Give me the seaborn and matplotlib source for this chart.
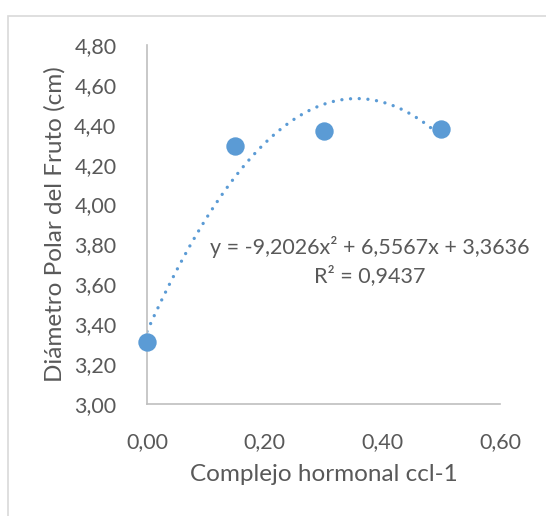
import numpy as np
import pandas as pd
import matplotlib
matplotlib.use("Agg")
import matplotlib.pyplot as plt
import seaborn as sns
from matplotlib.patches import Rectangle

# Data
dosis = [0.00, 0.15, 0.30, 0.50]
diametro = [3.311, 4.294, 4.371, 4.378]
coef = [-9.2026, 6.5567, 3.3636]   # polynomial trend (x², x, const)
r2 = 0.9437
xticks = [0.0, 0.2, 0.4, 0.6]
yticks = [3.0, 3.2, 3.4, 3.6, 3.8, 4.0, 4.2, 4.4, 4.6, 4.8]

sns.set_theme(style="white")
plt.rcParams["font.family"] = ["Lato", "DejaVu Sans"]

blue = "#5B9BD5"
grey_txt = "#595959"
axis_col = "#BFBFBF"

W, H = 546, 516
fig = plt.figure(figsize=(W / 100, H / 100), dpi=100)
fig.patch.set_facecolor("white")

# outer chart frame
fig.patches.append(Rectangle((8 / W, -0.1), 1.2, 1 - 16 / H + 0.1,
                             transform=fig.transFigure, fill=False,
                             edgecolor="#D9D9D9", linewidth=1.2))

x0, x1 = 147, 500
y0, y1 = 45, 404
ax = fig.add_axes([x0 / W, 1 - y1 / H, (x1 - x0) / W, (y1 - y0) / H])
ax.set_facecolor("none")

df = pd.DataFrame({"dosis": dosis, "diametro": diametro})

# trendline from the stated coefficients
xs = np.linspace(min(dosis), max(dosis), 200)
ys = np.polyval(coef, xs)
ax.plot(xs, ys, color=blue, linewidth=2.4, linestyle=(0, (0.01, 2.6)),
        dash_capstyle="round", zorder=2)

sns.scatterplot(data=df, x="dosis", y="diametro", ax=ax, color=blue,
                s=175, edgecolor=blue, linewidth=0, zorder=3, clip_on=False)

ax.set_xlim(0, 0.6)
ax.set_ylim(3.0, 4.8)
ax.set_xticks(xticks)
ax.set_yticks(yticks)
ax.set_xticklabels([f"{v:.2f}".replace(".", ",") for v in xticks])
ax.set_yticklabels([f"{v:.2f}".replace(".", ",") for v in yticks])
ax.tick_params(axis="both", length=0, labelsize=15.5, colors=grey_txt)
ax.tick_params(axis="x", pad=20)
ax.tick_params(axis="y", pad=22)

for side in ["top", "right"]:
    ax.spines[side].set_visible(False)
for side in ["left", "bottom"]:
    ax.spines[side].set_color(axis_col)
    ax.spines[side].set_linewidth(1.2)

ax.set_xlabel("Complejo hormonal ccl-1", fontsize=17.5, color=grey_txt, labelpad=9)
ax.set_ylabel("Diámetro Polar del Fruto (cm)", fontsize=17.5, color=grey_txt, labelpad=6)

def fmt(v):
    return f"{abs(v):.4f}".replace(".", ",")

sign = "-" if coef[0] < 0 else ""
eq = f"y = {sign}{fmt(coef[0])}x² + {fmt(coef[1])}x + {fmt(coef[2])}"
fig.text(370 / W, 1 - 247 / H, eq, ha="center", va="center",
         fontsize=15.5, color=grey_txt)
fig.text(370 / W, 1 - 276 / H, f"R² = {fmt(r2)}", ha="center", va="center",
         fontsize=15.5, color=grey_txt)

fig.savefig("out.png", dpi=100, facecolor="white")
